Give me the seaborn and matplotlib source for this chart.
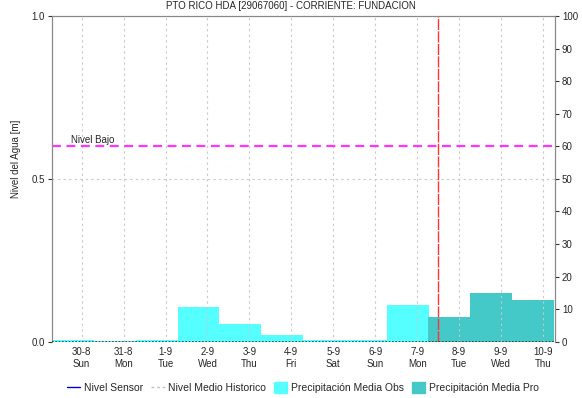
import numpy as np
import pandas as pd
import matplotlib
matplotlib.use("Agg")
import matplotlib.pyplot as plt
import seaborn as sns
from matplotlib.lines import Line2D
from matplotlib.patches import Patch

# daily precipitation (right axis, mm) - observed and forecast
obs_day = [0, 1, 2, 3, 4, 5, 6, 7, 8]
obs_precip = [0.6, 0.3, 0.6, 10.5, 5.5, 2.1, 0.4, 0.4, 11.4]
pro_day = [9, 10, 11]
pro_precip = [7.6, 15.1, 12.8]

tick_dates = ["30-8", "31-8", "1-9", "2-9", "3-9", "4-9", "5-9", "6-9", "7-9", "8-9", "9-9", "10-9"]
tick_days = ["Sun", "Mon", "Tue", "Wed", "Thu", "Fri", "Sat", "Sun", "Mon", "Tue", "Wed", "Thu"]
tick_offset = 0.714
nivel_bajo = 0.6
now_day = 9.2

sns.set_style("white")
plt.rcParams['font.family'] = ['Liberation Sans', 'DejaVu Sans']

fig = plt.figure(figsize=(5.82, 3.98), dpi=100)
ax = fig.add_axes([0.0888, 0.1415, 0.8648, 0.8183])
ax2 = ax.twinx()

df_obs = pd.DataFrame({"day": obs_day, "precip": obs_precip})
df_pro = pd.DataFrame({"day": pro_day, "precip": pro_precip})
ax2.bar(df_obs["day"], df_obs["precip"], width=1.0, align="edge", color="#55FFFF", linewidth=0)
ax2.bar(df_pro["day"] - 0.03, df_pro["precip"], width=1.0, align="edge", color="#44C8C8", linewidth=0)
ax2.set_ylim(0, 100)
ax2.set_yticks(range(0, 101, 10))

ax.set_zorder(ax2.get_zorder() + 1)
ax.patch.set_visible(False)
ax.set_xlim(0, 12)
ax.set_ylim(0, 1.0)
ax.set_yticks([0.0, 0.5, 1.0])
ax.set_yticklabels(["0.0", "0.5", "1.0"])
ticks = [tick_offset + i for i in range(len(tick_dates))]
ax.set_xticks(ticks)
ax.set_xticklabels([f"{d}\n{w}" for d, w in zip(tick_dates, tick_days)])

for t in ticks:
    ax.axvline(t, color="#c8c8c8", linestyle=(0, (2, 3)), linewidth=0.8, zorder=0)
ax.axhline(0.5, color="#c8c8c8", linestyle=(0, (2, 3)), linewidth=0.8, zorder=0)
ax.axhline(0.0, color="#333333", linestyle=(0, (1, 1)), linewidth=1.2, zorder=3)

sns.lineplot(x=[0, 12], y=[nivel_bajo, nivel_bajo], ax=ax, color="#FF33FF",
             linestyle=(0, (4, 2.5)), linewidth=1.6, legend=False)
ax.text(0.45, nivel_bajo + 0.004, "Nivel Bajo", fontsize=7, va="bottom", ha="left")
ax.axvline(now_day, color="#FF3333", linewidth=1.0, linestyle=(0, (8, 1)))

for a in (ax, ax2):
    for s in a.spines.values():
        s.set_color("#888888")
        s.set_linewidth(0.8)
    a.spines["bottom"].set_visible(False)
    a.tick_params(labelsize=7, length=3, width=0.8, color="#333333", pad=2)
ax.tick_params(axis="x", length=0, pad=4)
ax.set_xlabel("")
ax.set_ylabel("Nivel del Agua [m]", fontsize=7)
ax.yaxis.set_label_coords(-0.06, 0.56)

fig.suptitle("PTO RICO HDA [29067060] - CORRIENTE: FUNDACION", fontsize=7, y=0.998, va="top")

handles = [
    Line2D([], [], color="#0000CC", linewidth=1.0),
    Line2D([], [], color="#c0c0c0", linestyle=(0, (2, 2)), linewidth=1.0),
    Patch(color="#55FFFF"),
    Patch(color="#44C8C8"),
]
labels = ["Nivel Sensor", "Nivel Medio Historico", "Precipitación Media Obs", "Precipitación Media Pro"]
fig.legend(handles, labels, loc="center", bbox_to_anchor=(0.52, 0.026), ncol=4, frameon=False,
           fontsize=7.5, handlelength=1.3, handletextpad=0.3, columnspacing=0.8,
           handleheight=1.2)

fig.savefig("out.png", dpi=100)
